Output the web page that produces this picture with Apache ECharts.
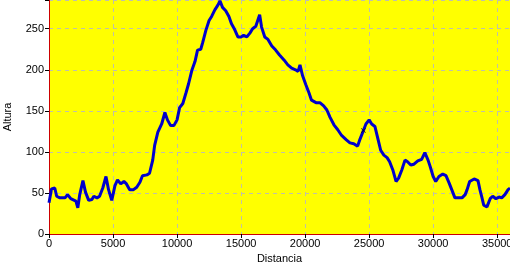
<!DOCTYPE html>
<html>
<head>
<meta charset="utf-8">
<script src="https://cdn.jsdelivr.net/npm/echarts@6/dist/echarts.min.js"></script>
<style>html,body{margin:0;padding:0;background:#fff;}#c{width:510px;height:266px;}</style>
</head>
<body>
<div id="c"></div>
<script>
const distancia = [0,200,450,600,850,1250,1450,1700,1850,2100,2250,2400,2650,2850,3100,3350,3500,3750,3950,4200,4450,4650,4900,5150,5350,5600,5850,6050,6300,6600,6850,7100,7300,7650,7850,8100,8250,8500,8800,9050,9250,9500,9750,10000,10200,10450,10700,10900,11150,11400,11600,11850,12000,12250,12500,12700,12950,13200,13350,13550,13800,14050,14250,14500,14750,15000,15200,15450,15700,15900,16150,16300,16450,16600,16850,17100,17400,17700,18000,18350,18650,18950,19250,19450,19600,19800,20050,20300,20500,20850,21150,21450,21700,21950,22250,22550,22850,23200,23500,23800,24100,24250,24500,24750,25000,25200,25450,25700,25900,26150,26400,26600,26850,27100,27300,27550,27800,28000,28250,28500,28800,29100,29350,29600,29750,30000,30200,30450,30750,31000,31250,31450,31700,32000,32250,32500,32650,32850,33200,33500,33650,33800,33950,34200,34450,34650,34900,35150,35350,35600,35850,36000];
const altura = [38,55,56,46,44,44,48,43,45,40,32,48,65,51,41,42,46,44,46,56,70,54,41,59,66,61,64,61,54,54,57,63,71,72,74,90,108,124,134,148,139,132,132,139,154,159,172,183,199,210,224,225,233,248,260,265,273,279,284,276,272,265,256,249,240,240,242,240,245,250,253,260,267,252,240,237,229,224,218,212,206,202,200,198,206,193,182,172,163,160,160,156,151,142,133,127,120,115,111,110,107,114,124,134,139,134,131,115,102,96,93,88,78,64,68,78,90,88,84,85,89,91,99,90,83,70,64,70,73,71,62,54,44,44,44,48,54,64,67,65,54,45,35,33,43,46,43,45,44,48,54,56];
const marca = [[24550, 126]];
const xTicks = [0,5000,10000,15000,20000,25000,30000,35000];
const yTicks = [0,50,100,150,200,250];

const chart = echarts.init(document.getElementById('c'), null, {renderer:'canvas'});
const font = 'Liberation Sans';
chart.setOption({
  animation:false,
  backgroundColor:'#ffffff',
  grid:{left:49, right:0, top:0, bottom:32, show:true, backgroundColor:'#ffff00', borderWidth:0,
        containLabel:false, outerBoundsMode:'none'},
  xAxis:{
    type:'value', min:0, max:36000, interval:5000,
    name:'Distancia', nameLocation:'middle', nameGap:18,
    nameTextStyle:{color:'#000', fontSize:11, fontFamily:font},
    axisLine:{show:true, onZero:false, lineStyle:{color:'#cc0000', width:1}},
    axisTick:{show:true, length:4, lineStyle:{color:'#000'}},
    axisLabel:{color:'#000', fontSize:11, fontFamily:font, margin:4,
      formatter:v=> xTicks.includes(v) ? String(v) : '', showMaxLabel:true, hideOverlap:false},
    splitLine:{show:true, lineStyle:{color:'#c0c0a8', type:[4,4], width:1}}
  },
  yAxis:{
    type:'value', min:0, max:285, interval:50,
    name:'Altura', nameLocation:'middle', nameGap:36,
    nameTextStyle:{color:'#000', fontSize:11, fontFamily:font},
    axisLine:{show:true, onZero:false, lineStyle:{color:'#cc0000', width:1}},
    axisTick:{show:true, length:4, lineStyle:{color:'#000'}},
    axisLabel:{color:'#000', fontSize:11, fontFamily:font, margin:5,
      formatter:v=> yTicks.includes(v) ? String(v) : ''},
    splitLine:{show:true, lineStyle:{color:'#c0c0a8', type:[4,4], width:1}}
  },
  series:[
    {type:'line', data:distancia.map((d,i)=>[d, altura[i]]), showSymbol:false, symbol:'none',
     lineStyle:{color:'#0000cc', width:3}, clip:true},
    {type:'scatter', data:marca, symbol:'path://M0,1L1,0L5,4L9,0L10,1L6,5L10,9L9,10L5,6L1,10L0,9L4,5Z',
     symbolSize:5, itemStyle:{color:'#000'}, z:5}
  ]
});
</script>
</body>
</html>
